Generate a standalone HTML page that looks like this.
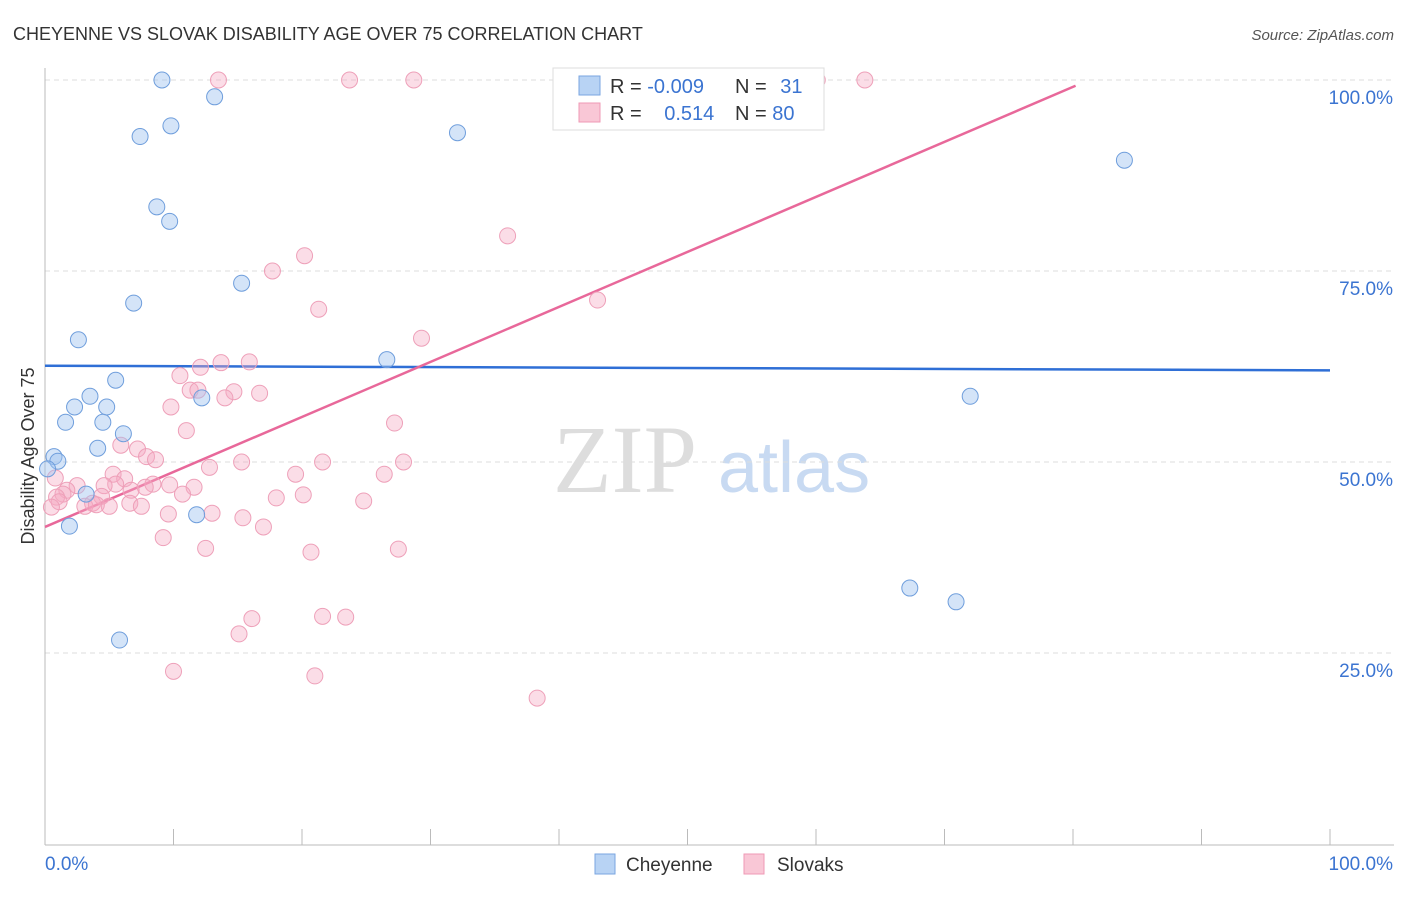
<!DOCTYPE html>
<html><head><meta charset="utf-8"><style>
body{margin:0;background:#fff;font-family:"Liberation Sans",sans-serif;}
svg text{font-family:"Liberation Sans",sans-serif;}
</style></head><body>
<svg id="chart" width="1406" height="892" xmlns="http://www.w3.org/2000/svg">
<text x="13" y="40" font-size="18" fill="#333">CHEYENNE VS SLOVAK DISABILITY AGE OVER 75 CORRELATION CHART</text>
<text x="1394" y="40" font-size="15" fill="#555" font-style="italic" text-anchor="end">Source: ZipAtlas.com</text>
<g>
<text x="553" y="492" font-size="96" fill="#ddd" font-family="Liberation Serif" style="font-family:'Liberation Serif',serif">ZIP</text>
<text x="718" y="492" font-size="72" fill="#c8daf2">atlas</text>
</g>
<g id="grid"></g>
<g id="axes"></g>
<g id="lines"></g>
<g id="points"></g>
<g>
<rect x="553" y="68" width="271" height="62" fill="#fff" stroke="#ddd"/>
<rect x="579" y="76" width="21" height="19" fill="#b8d3f4" stroke="#7aa6e0"/>
<rect x="579" y="103" width="21" height="19" fill="#f9c7d6" stroke="#ef9ab5"/>
<text x="610" y="93" font-size="20" fill="#333">R = <tspan fill="#3b74d1">-0.009</tspan></text>
<text x="735" y="93" font-size="20" fill="#333">N = <tspan fill="#3b74d1" dx="8">31</tspan></text>
<text x="610" y="120" font-size="20" fill="#333">R = <tspan fill="#3b74d1" dx="17">0.514</tspan></text>
<text x="735" y="120" font-size="20" fill="#333">N = <tspan fill="#3b74d1">80</tspan></text>
</g>
<g>
<rect x="595" y="854" width="20" height="20" fill="#b8d3f4" stroke="#7aa6e0"/>
<text x="626" y="871" font-size="19" fill="#333">Cheyenne</text>
<rect x="744" y="854" width="20" height="20" fill="#f9c7d6" stroke="#ef9ab5"/>
<text x="777" y="871" font-size="19" fill="#333">Slovaks</text>
</g>
</svg>
<script>
const blueX=[9.1,13.2,7.4,9.8,32.1,84.0,8.7,9.7,15.3,6.9,2.6,26.6,5.5,72.0,3.5,2.3,4.8,1.6,4.5,12.2,6.1,4.1,0.7,1.0,0.2,3.2,11.8,1.9,67.3,70.9,5.8];
const blueY=[100,97.8,92.6,94.0,93.1,89.5,83.4,81.5,73.4,70.8,66.0,63.4,60.7,58.6,58.6,57.2,57.2,55.2,55.2,58.4,53.7,51.8,50.7,50.1,49.1,45.8,43.1,41.6,33.5,31.7,26.7];
const pinkX=[13.5,23.7,28.7,49.2,60.1,63.8,36.0,20.2,17.7,43.0,21.3,29.3,13.7,15.9,12.1,10.5,11.3,11.9,14.7,16.7,9.8,14.0,27.2,11.0,5.9,7.2,7.9,8.6,15.3,21.6,27.9,12.8,5.3,19.5,26.4,6.2,0.8,5.5,8.4,9.7,7.8,2.5,4.6,6.7,11.6,1.7,1.4,10.7,4.4,0.9,18.0,20.1,24.8,1.1,3.7,6.6,3.1,4.0,5.0,7.5,0.5,9.6,13.0,15.4,17.0,9.2,12.5,20.7,27.5,16.1,21.6,23.4,15.1,10.0,21.0,38.3];
const pinkY=[100,100,100,100,100,100,79.6,77.0,75.0,71.2,70.0,66.2,63.0,63.1,62.4,61.3,59.4,59.4,59.2,59.0,57.2,58.4,55.1,54.1,52.2,51.7,50.7,50.3,50.0,50.0,50.0,49.3,48.4,48.4,48.4,47.8,47.9,47.1,47.1,47.0,46.7,46.9,46.9,46.3,46.7,46.3,45.8,45.8,45.5,45.4,45.3,45.7,44.9,44.8,44.6,44.6,44.2,44.4,44.2,44.2,44.1,43.2,43.3,42.7,41.5,40.1,38.7,38.2,38.6,29.5,29.8,29.7,27.5,22.6,22.0,19.1];
const blueTrend=[62.6,62.0];
const pinkTrendStart=41.5, pinkTrendSlope=0.72, pinkTrendEndX=80.2;
const yTicks=[100,75,50,25];
const yTickLabels=["100.0%","75.0%","50.0%","25.0%"];
const xEndLabels=["0.0%","100.0%"];
const NS="http://www.w3.org/2000/svg";
const sx=v=>45+v*12.85, sy=v=>844-v*7.64;
function mk(tag,attrs,parent){const e=document.createElementNS(NS,tag);for(const k in attrs)e.setAttribute(k,attrs[k]);document.getElementById(parent).appendChild(e);return e;}
yTicks.forEach((t,i)=>{
 const g=mk('line',{x1:45,x2:1394,y1:sy(t),y2:sy(t),stroke:'#ddd','stroke-dasharray':'5,4'},'grid');
 
 
 const l=mk('text',{x:1393,y:sy(t)+24,'font-size':19,fill:'#3b74d1','text-anchor':'end'},'axes');
 l.textContent=yTickLabels[i];
 
 
});
let ax=mk('line',{x1:45,x2:45,y1:68,y2:845,stroke:'#bbb'},'axes');


ax=mk('line',{x1:45,x2:1394,y1:845,y2:845,stroke:'#bbb'},'axes');


for(let i=0;i<=10;i++){const t=mk('line',{x1:sx(i*10),x2:sx(i*10),y1:829,y2:845,stroke:'#bbb'},'axes');
 
 }
let xl=mk('text',{x:45,y:870,'font-size':19,fill:'#3b74d1'},'axes');xl.textContent=xEndLabels[0];


xl=mk('text',{x:1393,y:870,'font-size':19,fill:'#3b74d1','text-anchor':'end'},'axes');xl.textContent=xEndLabels[1];


const yt=mk('text',{x:0,y:0,'font-size':18,fill:'#333','text-anchor':'middle',transform:'translate(34,456) rotate(-90)'},'axes');
yt.textContent='Disability Age Over 75';


pinkX.forEach((x,i)=>{const c=mk('circle',{cx:sx(x),cy:sy(pinkY[i]),r:8,fill:'rgba(245,170,195,0.4)',stroke:'#eea0b9','stroke-width':1},'points');
 
 });
blueX.forEach((x,i)=>{const c=mk('circle',{cx:sx(x),cy:sy(blueY[i]),r:8,fill:'rgba(160,195,240,0.45)',stroke:'#6f9edc','stroke-width':1},'points');
 
 });
let tl=mk('line',{x1:sx(0),y1:sy(blueTrend[0]),x2:sx(100),y2:sy(blueTrend[1]),stroke:'#2f6fd6','stroke-width':2.5},'lines');


tl=mk('line',{x1:sx(0),y1:sy(pinkTrendStart),x2:sx(pinkTrendEndX),y2:sy(pinkTrendStart+pinkTrendSlope*pinkTrendEndX),stroke:'#e8689a','stroke-width':2.5},'lines');


</script>
</body></html>
